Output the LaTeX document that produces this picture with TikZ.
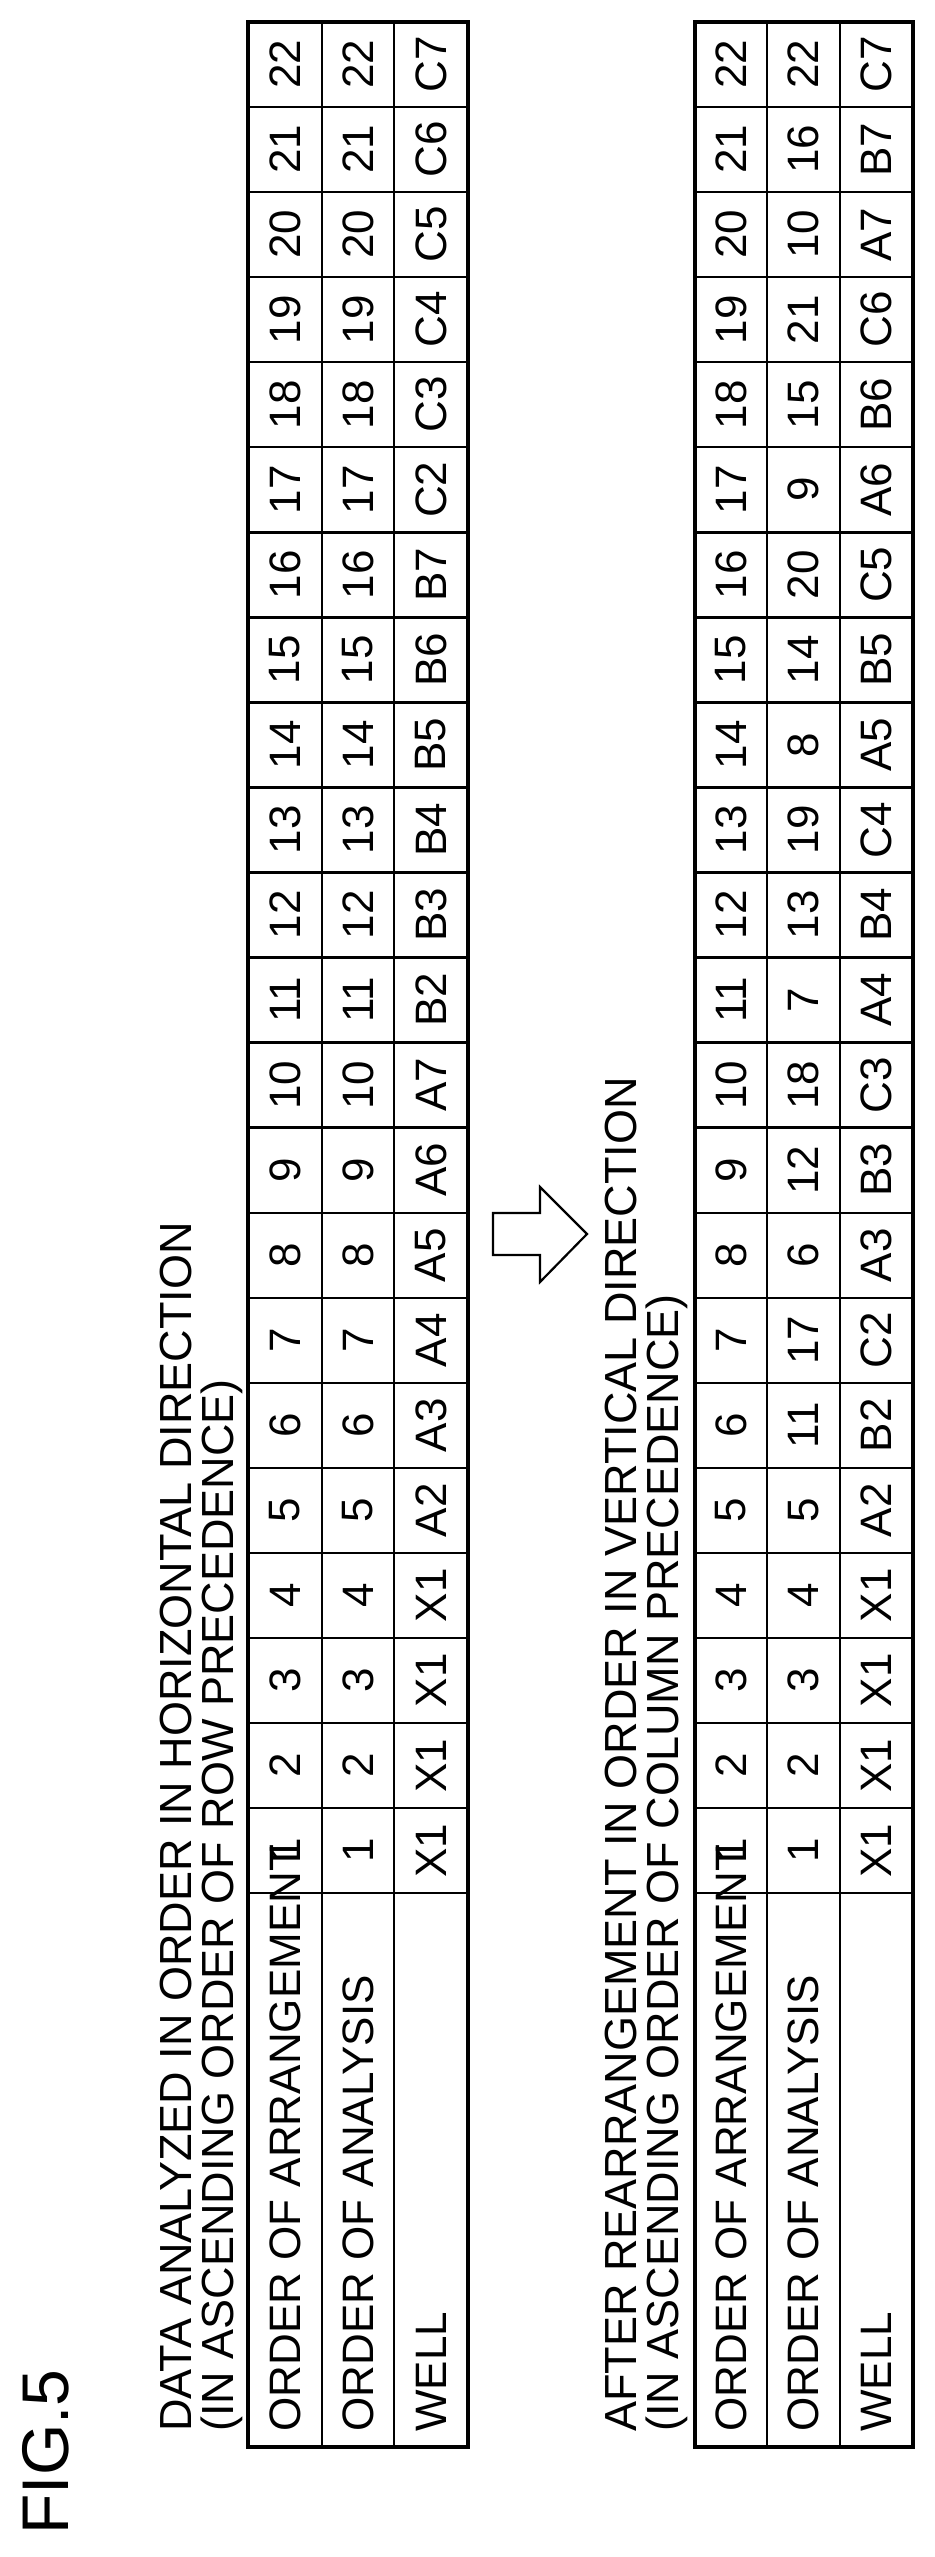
\documentclass[tikz,border=0pt]{standalone}
\usepackage{fontspec}
\setmainfont{Liberation Sans}
\begin{document}
\begin{tikzpicture}[x=0.5pt,y=-0.5pt,
  cell/.style={rotate=90,font=\fontsize{22}{24}\selectfont,inner sep=0pt},
  lab/.style={rotate=90,anchor=west,font=\fontsize{22}{24}\selectfont,inner sep=0pt},
  ttl/.style={rotate=90,anchor=west,font=\fontsize{22.5}{24}\selectfont,inner sep=0pt},
  outer/.style={line width=2pt},
  inner/.style={line width=1.2pt}]
\useasboundingbox (0,0) rectangle (935,2557);
\node[rotate=90,anchor=west,font=\fontsize{33}{36}\selectfont,inner sep=0pt] (fig) at (46,2535) {FIG.5};
% titles
\node[ttl] (t1a) at (176,2432) {DATA ANALYZED IN ORDER IN HORIZONTAL DIRECTION};
\node[ttl] (t1b) at (222,2432) {(IN ASCENDING ORDER OF ROW PRECEDENCE)};
\node[ttl] (t2a) at (621,2432) {AFTER REARRANGEMENT IN ORDER IN VERTICAL DIRECTION};
\node[ttl] (t2b) at (667,2432) {(IN ASCENDING ORDER OF COLUMN PRECEDENCE)};
% tables
\def\ctop{22}\def\cw{85.05}\def\lb{1893}\def\bot{2447}
\foreach \xa/\xb/\xc/\xd/\tn in {248/322/394/468/A,695/767/840/913/B}{
  \foreach \i in {1,...,21}{\draw[inner] (\xa,\ctop+\i*\cw) -- (\xd,\ctop+\i*\cw);}
  \draw[inner] (\xa,\lb) -- (\xd,\lb);
  \draw[inner] (\xb,\ctop) -- (\xb,\bot);
  \draw[inner] (\xc,\ctop) -- (\xc,\bot);
  \draw[outer] (\xa,\ctop) rectangle (\xd,\bot);
  \node[lab] (\tn l1) at ({(\xa+\xb)/2},2432) {ORDER OF ARRANGEMENT};
  \node[lab] (\tn l2) at ({(\xb+\xc)/2},2432) {ORDER OF ANALYSIS};
  \node[lab] (\tn l3) at ({(\xc+\xd)/2},2432) {WELL};
  \foreach \i in {1,...,22}{\node[cell] (\tn r1c\i) at ({(\xa+\xb)/2},{\lb-(\i-0.5)*\cw}) {\i};}
}
\foreach \v [count=\i] in {1,2,3,4,5,6,7,8,9,10,11,12,13,14,15,16,17,18,19,20,21,22}
  {\node[cell] (Ar2c\i) at (358,{\lb-(\i-0.5)*\cw}) {\v};}
\foreach \v [count=\i] in {X1,X1,X1,X1,A2,A3,A4,A5,A6,A7,B2,B3,B4,B5,B6,B7,C2,C3,C4,C5,C6,C7}
  {\node[cell] (Ar3c\i) at (431,{\lb-(\i-0.5)*\cw}) {\v};}
\foreach \v [count=\i] in {1,2,3,4,5,11,17,6,12,18,7,13,19,8,14,20,9,15,21,10,16,22}
  {\node[cell] (Br2c\i) at (803.5,{\lb-(\i-0.5)*\cw}) {\v};}
\foreach \v [count=\i] in {X1,X1,X1,X1,A2,B2,C2,A3,B3,C3,A4,B4,C4,A5,B5,C5,A6,B6,C6,A7,B7,C7}
  {\node[cell] (Br3c\i) at (876.5,{\lb-(\i-0.5)*\cw}) {\v};}
% arrow
\draw[line width=1.1pt,line join=miter] (493,1213) -- (540,1213) -- (540,1187) -- (587,1234) -- (540,1282) -- (540,1255) -- (493,1255) -- cycle;
\end{tikzpicture}
\end{document}
